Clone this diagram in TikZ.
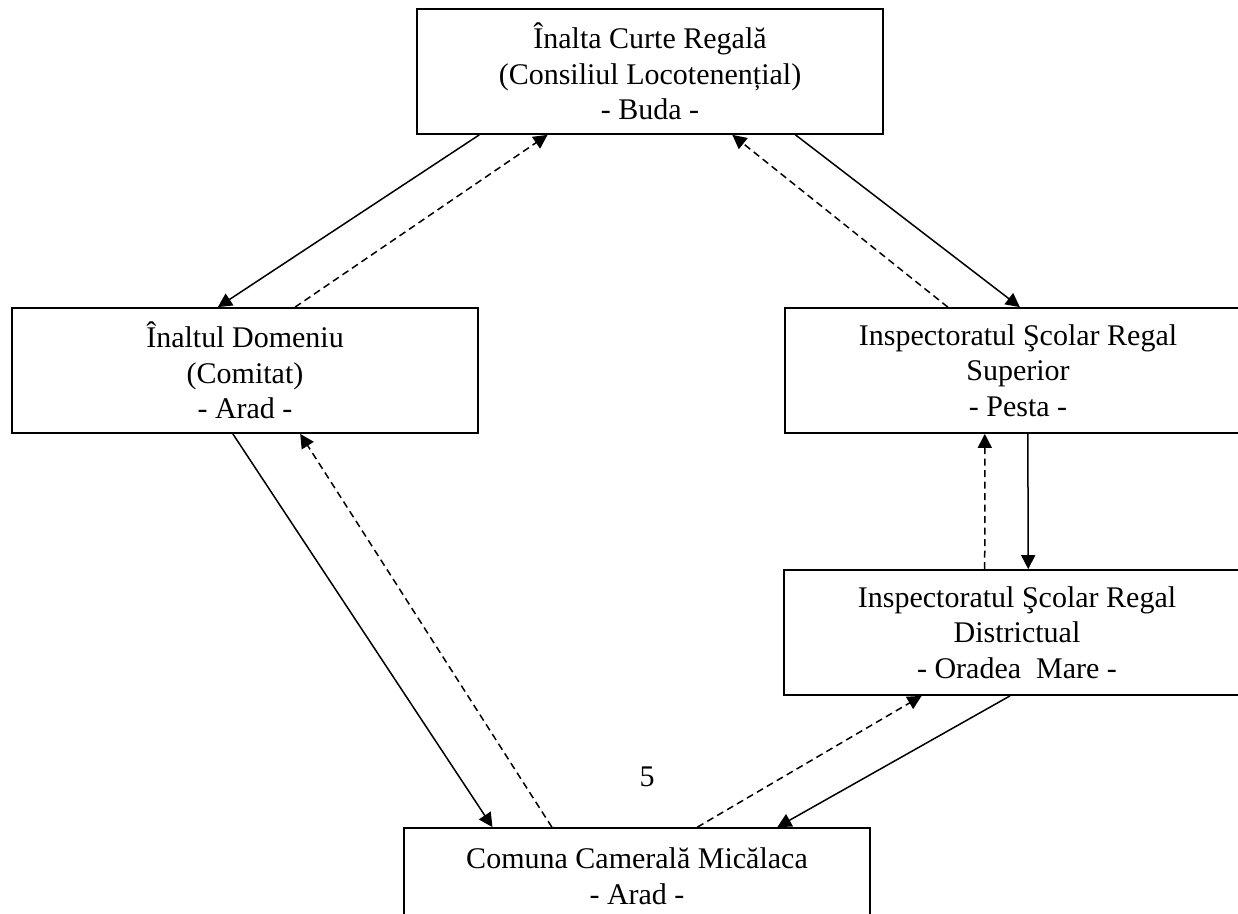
\documentclass[tikz,border=0pt]{standalone}
\usepackage{fontspec}
\setmainfont{Liberation Serif}
\usetikzlibrary{calc, arrows.meta}

\tikzset{
  unitbox/.style = {draw, line width=.7pt, align=center, inner sep=0pt,
                    minimum width=186.4pt, minimum height=50pt,
                    font=\fontsize{12}{14.3}\selectfont},
  order/.style   = {line width=.6pt, -{Triangle[length=5.6pt, width=5.6pt]}},
  report/.style  = {order, dash pattern=on 2.8pt off 1.8pt}
}

\begin{document}
\begin{tikzpicture}[x=.4pt, y=-.4pt]
			\clip (0,0) rectangle (1238,913);
			% the five offices
			\node[unitbox] (buda) at (650,71.5) {Înalta Curte Regală\\(Consiliul Locotenențial)\\- Buda -};
			\node[unitbox] (domeniu) at (245,370.5) {Înaltul Domeniu\\(Comitat)\\- Arad -};
			\node[unitbox] (pesta) at (1018,370.5) {Inspectoratul Şcolar Regal\\Superior\\- Pesta -};
			\node[unitbox] (oradea) at (1017,632.5) {Inspectoratul Şcolar Regal\\Districtual\\- Oradea~~Mare -};
			\node[unitbox, minimum height=38.4pt] (comuna) at (637,876) {Comuna Camerală Micălaca\\- Arad -};
			\node[font=\fontsize{12}{14.3}\selectfont] (page) at (647,777) {5};
			% orders down, reports up
			\draw[order] ($(buda.south west)!.135!(buda.south east)$) -- ($(domeniu.north west)!.442!(domeniu.north east)$);
			\draw[report] ($(domeniu.north west)!.607!(domeniu.north east)$) -- ($(buda.south west)!.281!(buda.south east)$);
			\draw[report] ($(pesta.north west)!.350!(pesta.north east)$) -- ($(buda.south west)!.676!(buda.south east)$);
			\draw[order] ($(buda.south west)!.811!(buda.south east)$) -- ($(pesta.north west)!.504!(pesta.north east)$);
			\draw[order] ($(domeniu.south west)!.474!(domeniu.south east)$) -- ($(comuna.north west)!.191!(comuna.north east)$);
			\draw[report] ($(comuna.north west)!.318!(comuna.north east)$) -- ($(domeniu.south west)!.618!(domeniu.south east)$);
			\draw[report] ($(oradea.north west)!.431!(oradea.north east)$) -- ($(pesta.south west)!.429!(pesta.south east)$);
			\draw[order] ($(pesta.south west)!.521!(pesta.south east)$) -- ($(oradea.north west)!.524!(oradea.north east)$);
			\draw[report] ($(comuna.north west)!.629!(comuna.north east)$) -- ($(oradea.south west)!.296!(oradea.south east)$);
			\draw[order] ($(oradea.south west)!.485!(oradea.south east)$) -- ($(comuna.north west)!.800!(comuna.north east)$);
		\end{tikzpicture}
\end{document}
